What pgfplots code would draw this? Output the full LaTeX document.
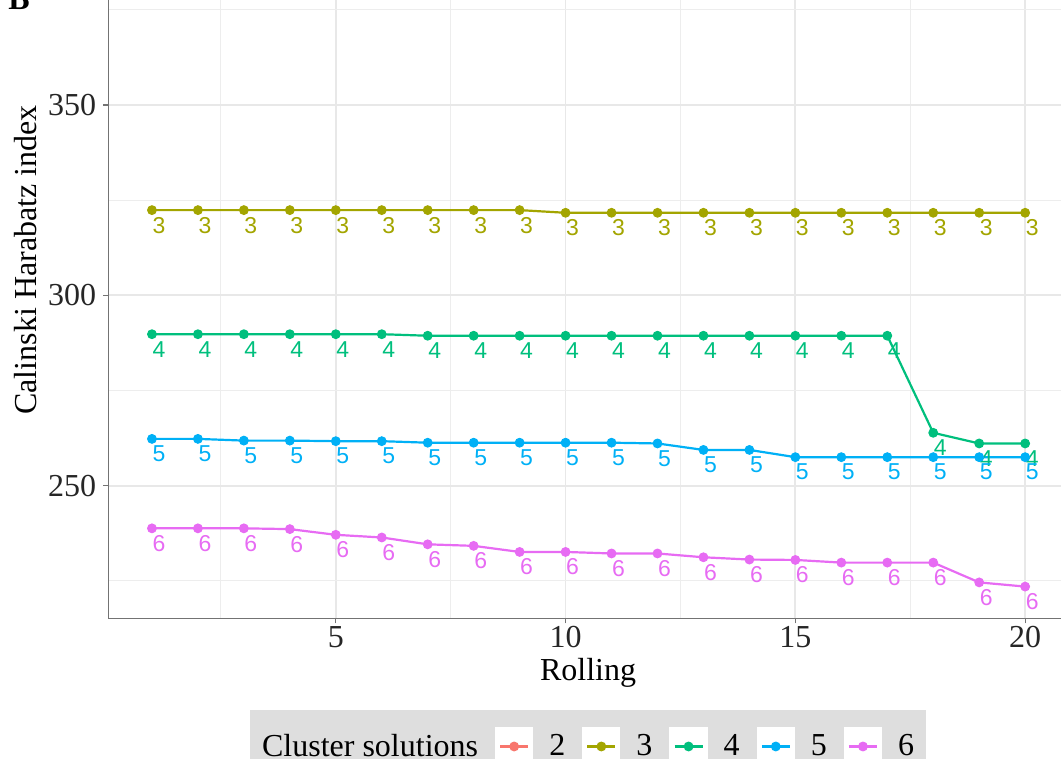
\documentclass[border=0pt]{standalone}
\usepackage{pgfplots}
\pgfplotsset{compat=1.18}
\usepackage{fontspec}
\setmainfont{Liberation Serif}
\newfontfamily\lab{Liberation Sans}
\definecolor{c2}{HTML}{F8766D}
\definecolor{c3}{HTML}{A3A500}
\definecolor{c4}{HTML}{00BF7D}
\definecolor{c5}{HTML}{00B0F6}
\definecolor{c6}{HTML}{E76BF3}
\pgfplotsset{
  ser/.style={color=#1, line width=1.1pt, mark=*, mark size=2.2pt,
    mark options={solid, fill=#1, draw=#1, line width=0.5pt},
    nodes near coords style={anchor=center, xshift=3.5pt, yshift=-7.5pt, inner sep=0pt, text=#1, font=\lab\fontsize{11.5}{13}\selectfont}},
}
\begin{document}
\begin{tikzpicture}
\begin{axis}[
  name=ax, at={(0,0)}, anchor=south west,
  scale only axis, width=476.35pt, height=309.15pt,
  xmin=0.05, xmax=20.78, ymin=215.17, ymax=377.6,
  axis x line*=bottom, axis y line*=left,
  axis line style={black!55, line width=0.6pt},
  xtick={5,10,15,20}, ytick={250,300,350},
  minor xtick={2.5,7.5,12.5,17.5}, minor ytick={225,275,325,375},
  grid=both,
  major grid style={black!9, line width=0.9pt},
  minor grid style={black!7, line width=0.45pt},
  tick align=outside, major tick length=2.5pt, minor tick length=0pt,
  tick style={black!55, line width=0.6pt},
  ticklabel style={font=\fontsize{16}{18}\selectfont, text=black!85},
  xticklabel style={yshift=2pt},
  /pgf/number format/assume math mode=true,
  xlabel={Rolling}, ylabel={Calinski Harabatz index},
  label style={font=\fontsize{16}{18}\selectfont},
  xlabel style={at={(axis description cs:0.5036,0)}, anchor=base, yshift=-31.3pt},
  ylabel style={at={(axis description cs:-0.07484,0.5795)}, anchor=base, rotate=0},
  legend columns=-1,
  legend style={at={(axis description cs:0.5036,-0.1483)}, anchor=north,
    fill=black!13, draw=none, inner xsep=6pt, inner ysep=8.5pt,
    font=\fontsize{16}{18}\selectfont,
    /tikz/every even column/.append style={column sep=8.5pt},
    nodes={inner sep=0pt}},
  legend image code/.code={
    \fill[white] (0pt,-9pt) rectangle (18pt,9pt);
    \draw[#1, mark repeat=2, mark phase=2] plot coordinates {(2pt,0pt) (9pt,0pt) (16pt,0pt)};
    \path (26pt,0pt);
  },
]
\addlegendimage{empty legend}\addlegendentry{Cluster solutions}
\addlegendimage{ser=c2}\addlegendentry{2}
\addlegendimage{ser=c3}\addlegendentry{3}
\addlegendimage{ser=c4}\addlegendentry{4}
\addlegendimage{ser=c5}\addlegendentry{5}
\addlegendimage{ser=c6}\addlegendentry{6}

\addplot[ser=c3, nodes near coords={3}, forget plot] coordinates {
(1,322.4) (2,322.4) (3,322.4) (4,322.4) (5,322.4) (6,322.4) (7,322.4) (8,322.4) (9,322.4)
(10,321.7) (11,321.7) (12,321.7) (13,321.7) (14,321.7) (15,321.7) (16,321.7) (17,321.7) (18,321.7) (19,321.7) (20,321.7)};
\addplot[ser=c4, nodes near coords={4}, forget plot] coordinates {
(1,289.8) (2,289.8) (3,289.8) (4,289.8) (5,289.8) (6,289.8) (7,289.4) (8,289.4) (9,289.4)
(10,289.4) (11,289.4) (12,289.4) (13,289.4) (14,289.4) (15,289.4) (16,289.4) (17,289.4) (18,263.9) (19,261.1) (20,261.1)};
\addplot[ser=c5, nodes near coords={5}, forget plot] coordinates {
(1,262.3) (2,262.3) (3,261.85) (4,261.85) (5,261.7) (6,261.7) (7,261.3) (8,261.3) (9,261.3)
(10,261.3) (11,261.3) (12,261.1) (13,259.4) (14,259.4) (15,257.5) (16,257.5) (17,257.5) (18,257.5) (19,257.5) (20,257.5)};
\addplot[ser=c6, nodes near coords={6}, forget plot] coordinates {
(1,238.8) (2,238.8) (3,238.8) (4,238.6) (5,237.1) (6,236.4) (7,234.6) (8,234.2) (9,232.6)
(10,232.6) (11,232.2) (12,232.2) (13,231.2) (14,230.6) (15,230.5) (16,229.8) (17,229.8) (18,229.8) (19,224.6) (20,223.5)};
\end{axis}
\node[anchor=base west, inner sep=0pt, font=\bfseries\fontsize{16}{18}\selectfont] at ([xshift=-50.15pt, yshift=-4.6pt]ax.north west) {B};
\pgfresetboundingbox
\path[use as bounding box] ([xshift=-54.15pt,yshift=-70.35pt]ax.south west) rectangle (ax.north east);
\end{tikzpicture}
\end{document}
